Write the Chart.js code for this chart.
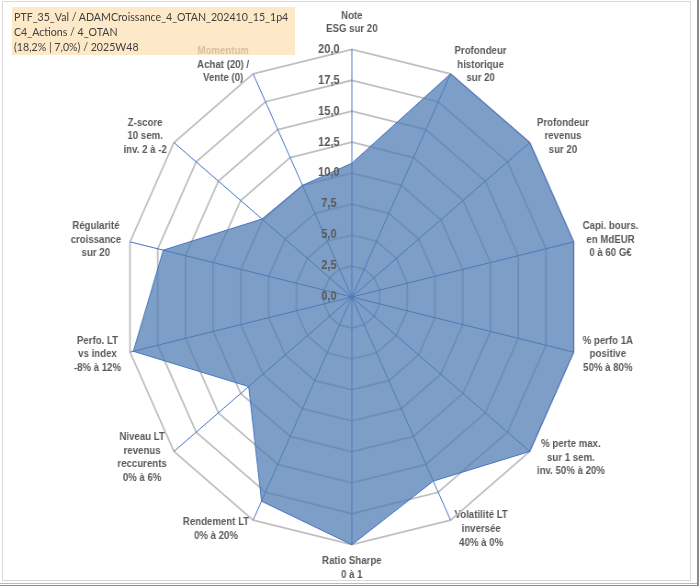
<!DOCTYPE html>
<html>
<head>
<meta charset="utf-8">
<script src="https://cdn.jsdelivr.net/npm/chart.js@4.4.1/dist/chart.umd.min.js"></script>
<style>
  body { margin: 0; background: #fff; }
  #wrap { position: relative; width: 700px; height: 586px; overflow: hidden; }
  #radarChart { position: absolute; left: 0; top: 0; }
  #cadre { position: absolute; left: 2px; top: 1px; width: 687px; height: 578px; border: 1px solid #d9d9d9; }
  #droite { position: absolute; left: 697px; top: 0; width: 2px; height: 586px; background: #8c8c8c; }
  #vert { position: absolute; left: 0; top: 583px; width: 697px; height: 1px; background: #a9c89c; }
  #bas { position: absolute; left: 0; top: 585px; width: 699px; height: 1px; background: #8c8c8c; }
  #titre {
    position: absolute; left: 12px; top: 7px; width: 283px; height: 48px;
    box-sizing: border-box; padding: 2px 0 0 2px;
    background: rgba(252, 226, 180, 0.75);
  }
  #titre div {
    white-space: nowrap; transform: scaleX(0.885); transform-origin: left top;
    font-family: Lato, "Open Sans", sans-serif; font-size: 12px; line-height: 15px; color: #404040;
  }
</style>
</head>
<body>
<div id="wrap">
  <!-- the reference is squeezed horizontally: draw 762 wide, show at 700px -->
  <canvas id="radarChart" width="762" height="586" style="width:700px;height:586px"></canvas>
  <div id="cadre"></div>
  <div id="droite"></div>
  <div id="vert"></div>
  <div id="bas"></div>
  <div id="titre"><div>PTF_35_Val / ADAMCroissance_4_OTAN_202410_15_1p4<br>C4_Actions / 4_OTAN<br>(18,2% | 7,0%) / 2025W48</div></div>
</div>
<script>
var categories = [
    ["Note", "ESG sur 20"],
    ["Profondeur", "historique", "sur 20"],
    ["Profondeur", "revenus", "sur 20"],
    ["Capi. bours.", "en MdEUR", "0 à 60 G€"],
    ["% perfo 1A", "positive", "50% à 80%"],
    ["% perte max.", "sur 1 sem.", "inv. 50% à 20%"],
    ["Volatilité LT", "inversée", "40% à 0%"],
    ["Ratio Sharpe", "0 à 1"],
    ["Rendement LT", "0% à 20%"],
    ["Niveau LT", "revenus", "reccurents", "0% à 6%"],
    ["Perfo. LT", "vs index", "-8% à 12%"],
    ["Régularité", "croissance", "sur 20"],
    ["Z-score", "10 sem.", "inv. 2 à -2"],
    ["Momentum", "Achat (20) /", "Vente (0)"]
];

var scores = [10.8, 20, 20, 20, 20, 20, 16.5, 20, 18.3, 11.6, 19.7, 17.0, 10.1, 10.0];

var tickValues = [0, 2.5, 5, 7.5, 10, 12.5, 15, 17.5, 20];
var tickLabels = ["0,0", "2,5", "5,0", "7,5", "10,0", "12,5", "15,0", "17,5", "20,0"];

// trailing spaces push the centered tick text to the left of the axis
var tickPad = "               ";

var labelFont = { family: "Liberation Sans", size: 10.5, weight: "bold", lineHeight: 1.3 };

var ctx = document.getElementById("radarChart").getContext("2d");
new Chart(ctx, {
    type: "radar",
    data: {
        labels: categories,
        datasets: [{
            label: "PTF_35_Val",
            data: scores,
            backgroundColor: "rgba(79,124,180,0.74)",
            borderColor: "#4472c4",
            borderWidth: 1,
            pointRadius: 0,
            pointHitRadius: 0
        }]
    },
    options: {
        responsive: false,
        devicePixelRatio: 1,
        animation: false,
        layout: { padding: { top: 7, bottom: 2, left: 4 } },
        plugins: { legend: { display: false }, tooltip: { enabled: false } },
        scales: {
            r: {
                min: tickValues[0],
                max: tickValues[tickValues.length - 1],
                afterBuildTicks: function (scale) {
                    // duplicate the 0 tick so that "0,0" gets drawn too
                    scale.ticks.unshift({ value: tickValues[0] });
                },
                afterFit: function (scale) {
                    // Excel centres the side labels on their anchor point
                    (scale._pointLabelItems || []).forEach(function (item, i) {
                        var h = item.bottom - item.top;
                        var w = item.right - item.left;
                        var deg = scale.getIndexAngle(i) * 180 / Math.PI;
                        if (i !== 0 && i !== 7) {
                            item.y += (deg < 90 || deg > 270) ? h / 2 : -h / 2;
                        }
                        if (item.textAlign === "left") {
                            item.x += w / 2;
                            item.textAlign = "center";
                        } else if (item.textAlign === "right") {
                            item.x -= w / 2;
                            item.textAlign = "center";
                        }
                    });
                },
                ticks: {
                    stepSize: 2.5,
                    z: 1,
                    showLabelBackdrop: false,
                    color: "#595959",
                    font: { family: "Liberation Sans", size: 12, weight: "bold" },
                    callback: function (v) {
                        var k = tickValues.indexOf(v);
                        return (k >= 0 ? tickLabels[k] : String(v)) + tickPad;
                    }
                },
                grid: { color: "#bfbfbf", lineWidth: 1.8 },
                angleLines: { color: "#4472c4", lineWidth: 1 },
                pointLabels: {
                    color: "#595959",
                    font: labelFont,
                    padding: function (c) { return c.index === 0 ? 5 : 2; }
                }
            }
        }
    }
});
</script>
</body>
</html>
